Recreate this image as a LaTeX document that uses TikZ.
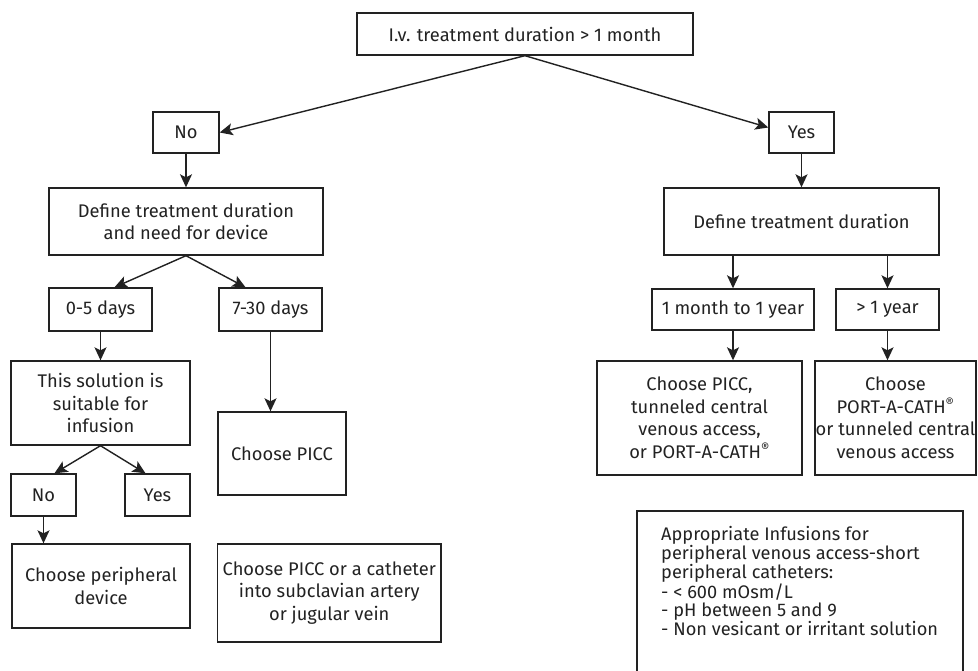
\documentclass[tikz,border=0pt]{standalone}
\usepackage{fontspec}
\setmainfont{Fira Sans}
\usetikzlibrary{arrows.meta}
\definecolor{ink}{HTML}{222222}
\newcommand{\regm}{\textsuperscript{\textregistered}}
\begin{document}
\begin{tikzpicture}[x=1pt,y=-1pt,
  box/.style={draw=ink,line width=1.4pt,rectangle,inner sep=0pt,align=center,text=ink,
    font=\fontsize{18.3}{22.5}\selectfont},
  arr/.style={draw=ink,line width=1.4pt,-{Stealth[length=13pt,width=12pt,inset=3pt]}}]
\useasboundingbox (0,0) rectangle (978,670);
\fill[white] (0,0) rectangle (978,670);
\node[box,minimum width=336pt,minimum height=42pt] (top) at (525,34) {I.v. treatment duration > 1 month};
\node[box,minimum width=66pt,minimum height=41pt] (no) at (186,132.5) {No};
\node[box,minimum width=65pt,minimum height=41pt] (yes) at (801.5,132.5) {Yes};
\node[box,minimum width=274pt,minimum height=67pt] (defl) at (186,221.5) {Define treatment duration\\and need for device};
\node[box,minimum width=275pt,minimum height=67pt] (defr) at (801.5,221.5) {Define treatment duration};
\node[box,minimum width=103pt,minimum height=43pt] (d05) at (100.5,309.5) {0-5 days};
\node[box,minimum width=103pt,minimum height=43pt] (d730) at (270.5,309.5) {7-30 days};
\node[box,minimum width=179pt,minimum height=84pt] (sol) at (100.5,403) {This solution is\\suitable for\\infusion};
\node[box,minimum width=128pt,minimum height=83pt] (picc) at (282,453.5) {Choose PICC};
\node[box,minimum width=65pt,minimum height=42pt] (no2) at (43.5,495) {No};
\node[box,minimum width=65pt,minimum height=42pt] (yes2) at (157.5,495) {Yes};
\node[box,minimum width=178pt,minimum height=84pt] (peri) at (101,586) {Choose peripheral\\device};
\node[box,inner xsep=5pt,minimum height=98pt,anchor=west] (cath) at (217,593) {Choose PICC or a catheter\\into subclavian artery\\or jugular vein};
\node[box,minimum width=162pt,minimum height=41pt] (m1y) at (733,309.5) {1 month to 1 year};
\node[box,minimum width=103pt,minimum height=41pt] (g1y) at (887.5,309.5) {> 1 year};
\node[box,minimum width=205pt,minimum height=114pt] (chr) at (699.5,418) {Choose PICC,\\tunneled central\\venous access,\\or PORT-A-CATH\regm};
\node[box,minimum width=161pt,minimum height=114pt] (port) at (895.5,418) {Choose\\PORT-A-CATH\regm\\or tunneled central\\venous access};
\draw[draw=ink,line width=1.4pt] (637,690) |- (963,511) -- (963,690);
\node[anchor=north west,inner sep=0pt,align=left,text=ink,font=\fontsize{18.2}{18}\selectfont] (appr) at (661,526)
  {Appropriate Infusions for\\peripheral venous access-short\\peripheral catheters:\\- < 600 mOsm/L\\- pH between 5 and 9\\- Non vesicant or irritant solution};
\draw[arr] (top.south) -- (no.east);
\draw[arr] (top.south) -- ([yshift=5pt]yes.west);
\draw[arr] (no.south) -- (defl.north);
\draw[arr] (yes.south) -- (defr.north);
\draw[arr] (defl.south) -- ([xshift=14pt]d05.north);
\draw[arr] (defl.south) -- ([xshift=-25pt]d730.north);
\draw[arr] (d05.south) -- (sol.north);
\draw[arr] (d730.south) -- (d730.south |- picc.north);
\draw[arr] (sol.south) -- ([xshift=11pt]no2.north);
\draw[arr] (sol.south) -- ([xshift=-12pt]yes2.north);
\draw[arr] (no2.south) -- (no2.south |- peri.north);
\draw[arr] (m1y.north |- defr.south) -- (m1y.north);
\draw[arr] (g1y.north |- defr.south) -- (g1y.north);
\draw[arr] (m1y.south) -- (m1y.south |- chr.north);
\draw[arr] (g1y.south) -- (g1y.south |- port.north);
\end{tikzpicture}
\end{document}
